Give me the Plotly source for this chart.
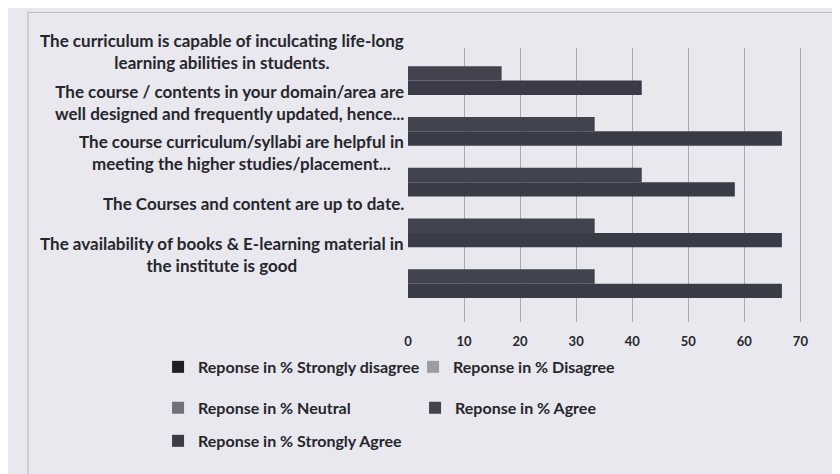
import plotly.graph_objects as go

categories = [
    "The curriculum is capable of inculcating life-long<br>learning abilities in students.",
    "The course / contents in your domain/area are<br>well designed and frequently updated, hence...",
    "The course curriculum/syllabi are helpful in<br>meeting the higher studies/placement...",
    "The Courses and content are up to date.",
    "The availability of books & E-learning material in<br>the institute is good",
]
strongly_disagree = [0, 0, 0, 0, 0]
disagree = [0, 0, 0, 0, 0]
neutral = [0, 0, 0, 0, 0]
agree = [16.7, 33.3, 41.7, 33.3, 33.3]
strongly_agree = [41.7, 66.7, 58.3, 66.7, 66.7]
x_ticks = [0, 10, 20, 30, 40, 50, 60, 70]

series = [
    ("Reponse in % Strongly disagree", strongly_disagree, "#1f1f26", "legend", "g1"),
    ("Reponse in % Disagree", disagree, "#9c9ca4", "legend", "g1"),
    ("Reponse in % Neutral", neutral, "#6f707a", "legend2", "g1"),
    ("Reponse in % Agree", agree, "#41434f", "legend2", "g2"),
    ("Reponse in % Strongly Agree", strongly_agree, "#393b47", "legend3", "g3"),
]

BG = "#e8e8ee"
FONT = "Lato"
TXT = "#26262c"

fig = go.Figure()
for name, vals, col, lg, og in series:
    fig.add_trace(go.Bar(
        y=categories, x=vals, name=name, orientation="h", offsetgroup=og,
        marker=dict(color=col, line=dict(width=0)), legend=lg,
    ))

annotations = []
for c in categories:
    annotations.append(dict(
        x=0, xref="paper", y=c, yref="y", text=c, showarrow=False,
        xanchor="right", yanchor="middle", align="center", yshift=22, xshift=-2,
        font=dict(family=FONT, size=17, color=TXT, weight="bold"),
    ))

legend_common = dict(orientation="h", xanchor="left", yanchor="top",
                     bgcolor="rgba(0,0,0,0)", itemwidth=30,
                     font=dict(family=FONT, size=16, color=TXT, weight="bold"),
                     entrywidthmode="pixels", traceorder="normal")

fig.update_layout(
    width=840, height=474,
    margin=dict(l=400, r=42, t=40, b=160),
    paper_bgcolor=BG, plot_bgcolor=BG,
    barmode="group", bargap=0.15, bargroupgap=0,
    showlegend=True,
    legend=dict(x=-0.628, y=-0.102, entrywidth=210, **legend_common),
    legend2=dict(x=-0.628, y=-0.251, entrywidth=212, **legend_common),
    legend3=dict(x=-0.628, y=-0.372, entrywidth=212, **legend_common),
    xaxis=dict(range=[0, 71], tickvals=x_ticks, showgrid=True,
               gridcolor="#a9a9b0", gridwidth=1, zeroline=False,
               showline=False, ticks="", ticklabelstandoff=10,
               tickfont=dict(family=FONT, size=13, color=TXT, weight="bold")),
    yaxis=dict(autorange="reversed", showticklabels=False, showgrid=False,
               zeroline=False, showline=False, ticks=""),
    annotations=annotations,
    shapes=[dict(type="rect", xref="paper", yref="paper",
                 x0=-0.955, x1=1.093, y0=-0.562, y1=1.13,
                 line=dict(color="#b5b5bc", width=1), fillcolor="rgba(0,0,0,0)")],
)

fig.write_html("out.html")
